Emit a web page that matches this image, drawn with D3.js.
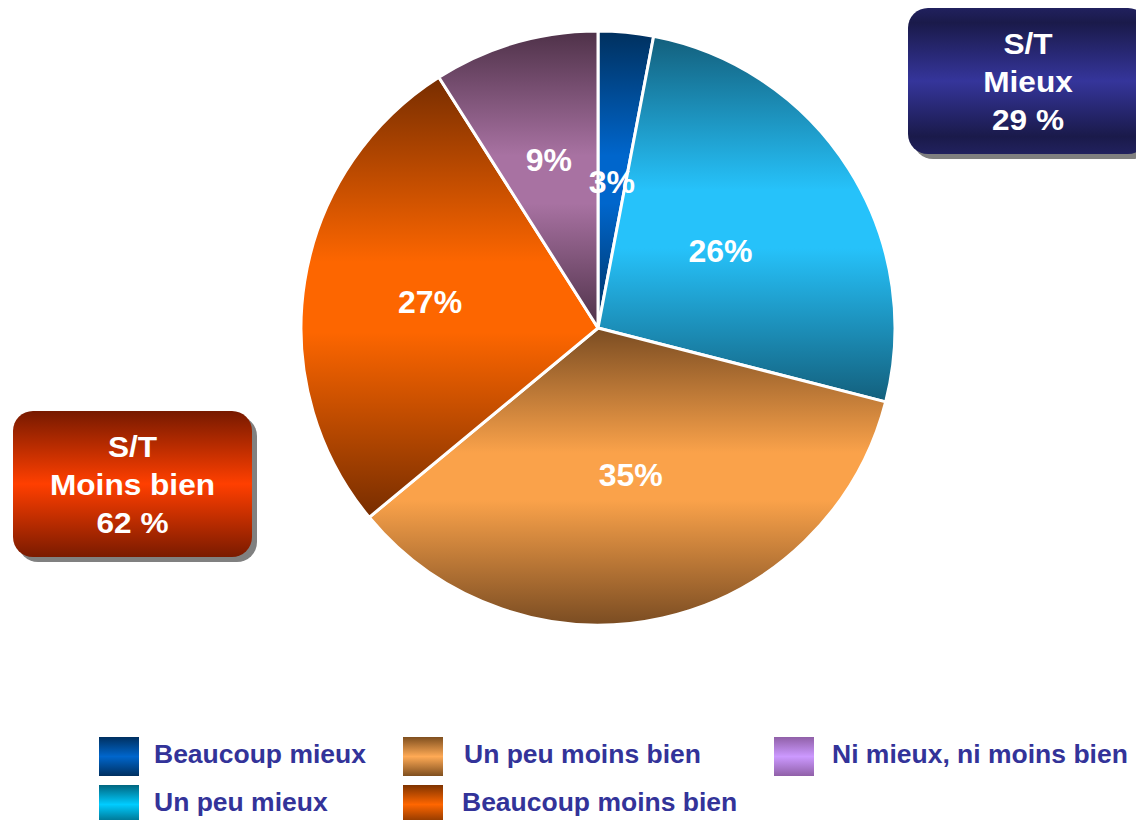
<!DOCTYPE html>
<html>
<head>
<meta charset="utf-8">
<script src="https://cdn.jsdelivr.net/npm/d3@7"></script>
<style>
  html, body { margin: 0; padding: 0; background: #fff; overflow: hidden; }
  svg { display: block; font-family: "Liberation Sans", Arial, sans-serif; }
</style>
</head>
<body>
<div id="chart"></div>
<script>
// données
const categories = ['Beaucoup mieux', 'Un peu mieux', 'Un peu moins bien', 'Beaucoup moins bien', 'Ni mieux, ni moins bien']
const values = [3, 26, 35, 27, 9]
const valueLabels = ['3%', '26%', '35%', '27%', '9%']
const boxMieux = ['S/T', 'Mieux', '29 %']
const boxMoins = ['S/T', 'Moins bien', '62 %']

// couleurs (sombre, clair) des parts et de la légende
const pieDark = ['#00305e', '#135f7c', '#7a4c22', '#772d00', '#4e3148']
const pieLight = ['#0066cc', '#26c2fa', '#faa24a', '#fd6600', '#a872a2']
const legDark = ['#003060', '#006680', '#7f4f1f', '#7f3300', '#9060a8']
const legLight = ['#0066cc', '#00ccff', '#ffaa55', '#ff6600', '#cc99ff']

const width = 1136, height = 820
const cx = 598, cy = 328, radius = 297
// rayon des étiquettes pour chaque part
const labelR = [147, 145, 150, 170, 176]

const svg = d3.select('#chart')
  .append('svg')
  .attr('width', width)
  .attr('height', height)

const defs = svg.append('defs')

function addGrad (id, dark, light, stops) {
  const g = defs.append('linearGradient')
    .attr('id', id)
    .attr('x1', 0).attr('y1', 0).attr('x2', 0).attr('y2', 1)
  stops.forEach(s => {
    g.append('stop').attr('offset', s[0]).attr('stop-color', s[1] === 'd' ? dark : light)
  })
}
const mirror = [[0, 'd'], [0.42, 'l'], [0.58, 'l'], [1, 'd']]
categories.forEach((c, i) => {
  addGrad('pie' + i, pieDark[i], pieLight[i], mirror)
  addGrad('leg' + i, legDark[i], legLight[i], [[0, 'd'], [0.5, 'l'], [1, 'd']])
})

// dégradés des encadrés
const gB = defs.append('linearGradient').attr('id', 'boxBlue')
  .attr('x1', 0).attr('y1', 0).attr('x2', 0).attr('y2', 1)
;[[0, '#21215e'], [0.1, '#1a1a4a'], [0.5, '#35359b'], [0.88, '#1a1a4a'], [1, '#21215e']]
  .forEach(s => gB.append('stop').attr('offset', s[0]).attr('stop-color', s[1]))
const gR = defs.append('linearGradient').attr('id', 'boxRed')
  .attr('x1', 0).attr('y1', 0).attr('x2', 0).attr('y2', 1)
;[[0, '#771a00'], [0.5, '#ff3f00'], [1, '#7a1a00']]
  .forEach(s => gR.append('stop').attr('offset', s[0]).attr('stop-color', s[1]))

// camembert
const pie = d3.pie().sort(null).value(d => d)
const arcs = pie(values)
const arc = d3.arc().innerRadius(0).outerRadius(radius)

const g = svg.append('g').attr('transform', `translate(${cx},${cy})`)

g.selectAll('path')
  .data(arcs)
  .enter()
  .append('path')
  .attr('d', arc)
  .attr('fill', (d, i) => `url(#pie${i})`)
  .attr('stroke', '#fff')
  .attr('stroke-width', 3)
  .attr('stroke-linejoin', 'round')

g.selectAll('text.lbl')
  .data(arcs)
  .enter()
  .append('text')
  .attr('class', 'lbl')
  .attr('transform', (d, i) => {
    const a = d3.arc().innerRadius(labelR[i]).outerRadius(labelR[i])
    return `translate(${a.centroid(d)})`
  })
  .attr('text-anchor', 'middle')
  .attr('dy', '0.36em')
  .attr('fill', '#fff')
  .attr('font-weight', 'bold')
  .attr('font-size', 32)
  .text((d, i) => valueLabels[i])

// encadrés (texte un peu élargi comme dans l'original)
function drawBox (x, y, w, h, fill, lines) {
  const b = svg.append('g')
  b.append('rect')
    .attr('x', x + 5).attr('y', y + 5)
    .attr('width', w).attr('height', h)
    .attr('rx', 20).attr('ry', 20)
    .attr('fill', '#808080')
  b.append('rect')
    .attr('x', x).attr('y', y)
    .attr('width', w).attr('height', h)
    .attr('rx', 20).attr('ry', 20)
    .attr('fill', fill)
  lines.forEach((t, i) => {
    b.append('text')
      .attr('transform', `translate(${x + w / 2},${y + h / 2 + (i - 1) * 38 + 1}) scale(1.09,1)`)
      .attr('dy', '0.36em')
      .attr('text-anchor', 'middle')
      .attr('fill', '#fff')
      .attr('font-weight', 'bold')
      .attr('font-size', 29)
      .text(t)
  })
}
drawBox(908, 8, 240, 146, 'url(#boxBlue)', boxMieux)
drawBox(13, 411, 239, 146, 'url(#boxRed)', boxMoins)

// légende
const legCols = [99, 403, 774]
const legTextX = [154, 464, 832]
const legend = svg.append('g')
categories.forEach((c, i) => {
  const col = Math.floor(i / 2), row = i % 2
  const lx = legCols[col], ly = 737 + row * 48
  legend.append('rect')
    .attr('x', lx).attr('y', ly)
    .attr('width', 40).attr('height', 39)
    .attr('fill', `url(#leg${i})`)
  legend.append('text')
    .attr('transform', `translate(${legTextX[col] - (col === 1 && row === 1 ? 2 : 0)},${ly + 26}) scale(1.06,1)`)
    .attr('fill', '#333399')
    .attr('font-weight', 'bold')
    .attr('font-size', 25)
    .text(c)
})
</script>
</body>
</html>
